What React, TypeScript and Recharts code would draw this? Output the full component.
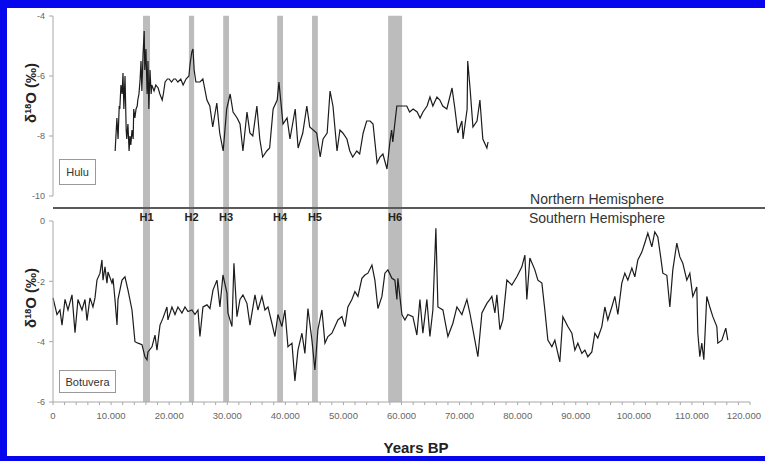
import React from "react";
import { Line, LineChart, ReferenceArea, ReferenceLine, XAxis, YAxis } from "recharts";

const huluYears = [
  10700, 11000, 11200, 11400, 11500, 11700, 11900, 12050, 12200, 12400, 12600, 12700, 12900, 13100, 13250,
  13400, 13600, 13800, 13900, 14100, 14300, 14500, 14600, 14800, 15000, 15150, 15300, 15500, 15700, 15800,
  16000, 16200, 16350, 16500, 16700, 16900, 17000, 17200, 17400, 17700, 18100, 18400, 18800, 19000, 19300,
  19700, 20000, 20400, 20800, 21100, 21500, 22000, 22400, 22900, 23400, 23600, 23900, 24100, 24300, 24600,
  25300, 25800, 26500, 27000, 27500, 28200, 28700, 29300, 29900, 30500, 31000, 31700, 32200, 32700, 33400,
  33900, 34400, 35100, 35600, 36100, 36800, 37300, 37900, 38600, 38900, 39600, 40300, 40800, 41700, 42200,
  43000, 43700, 44200, 45400, 46000, 46500, 47200, 47700, 48200, 48900, 49400, 49900, 50600, 51100, 51600,
  52300, 52800, 53400, 54000, 54600, 55100, 55800, 56300, 56800, 57500, 58000, 58300, 58500, 58900, 59200,
  59700, 60900, 61400, 62000, 62700, 63200, 63700, 64400, 64900, 65400, 66100, 66600, 67100, 67800, 68700,
  69200, 69700, 70400, 70600, 71300, 71400, 71800, 72300, 73000, 73500, 74000, 74700, 74900,
];
const huluValues = [
  -8.5, -7.4, -8.1, -7.0, -7.1, -6.3, -6.6, -5.9, -7.1, -6.0, -7.8, -8.1, -7.6, -8.5, -8.0,
  -8.3, -7.8, -8.1, -7.1, -7.4, -7.1, -7.0, -6.8, -6.6, -6.1, -5.5, -6.5, -5.3, -4.5, -5.8,
  -5.1, -6.6, -5.5, -7.1, -5.8, -6.6, -6.3, -6.4, -6.5, -6.3, -6.4, -6.6, -6.8, -6.6, -6.2,
  -6.1, -6.1, -6.2, -6.1, -6.1, -6.2, -6.1, -6.3, -6.1, -6.0, -5.6, -5.2, -5.1, -5.8, -6.2,
  -6.2, -6.1, -6.8, -7.0, -7.7, -6.9, -7.9, -8.5, -7.1, -6.6, -7.2, -7.4, -7.6, -8.5, -7.2,
  -7.9, -8.0, -7.0, -8.1, -8.7, -8.5, -8.4, -7.1, -6.8, -6.2, -7.6, -7.4, -8.1, -7.1, -8.4,
  -7.9, -7.0, -7.7, -7.9, -8.7, -8.1, -7.9, -6.5, -7.0, -8.5, -7.8, -7.9, -8.1, -8.5, -8.7,
  -8.5, -8.6, -7.9, -7.5, -7.5, -7.6, -8.9, -8.7, -8.6, -9.1, -8.2, -7.8, -8.2, -7.5, -7.0,
  -7.0, -7.0, -7.2, -7.1, -7.2, -7.4, -7.2, -7.0, -6.7, -7.0, -6.7, -6.8, -7.0, -7.1, -6.4,
  -7.1, -7.9, -7.5, -8.1, -7.1, -5.5, -6.4, -7.7, -7.5, -6.8, -8.1, -8.4, -8.2,
];

const botuveraYears = [
  0, 690, 1200, 1550, 2070, 2580, 3270, 3790, 4300, 4990, 5510, 5850, 6370, 6880, 7230, 7570, 8090, 8430,
  8610, 8950, 9290, 9470, 10150, 10330, 10670, 11020, 11190, 11880, 12390, 12910, 13600, 14110, 14630,
  15320, 15830, 16180, 16350, 17040, 17560, 17900, 18420, 18930, 19620, 19790, 20480, 21000, 21510, 22200,
  22720, 23240, 23920, 24440, 24960, 25300, 25820, 26510, 27020, 27540, 28230, 28740, 29260, 29950, 30120,
  30810, 31150, 31670, 32190, 32700, 33390, 33910, 34770, 35280, 35970, 36490, 37010, 37690, 38210, 38730,
  39410, 39930, 40450, 41140, 41650, 42170, 42860, 43370, 43890, 44580, 45090, 45610, 46300, 46820, 47330,
  48020, 48540, 49050, 49740, 50260, 50770, 51460, 51980, 52500, 53180, 53700, 54220, 54910, 55420, 55940,
  56630, 57140, 57660, 58350, 58860, 59210, 59380, 60070, 60590, 61100, 61960, 62650, 63170, 63680, 64370,
  64890, 65400, 65920, 66270, 67130, 67990, 68850, 69540, 70400, 71260, 71770, 72630, 73150, 73840, 74700,
  75220, 75560, 76080, 76420, 76940, 77450, 78140, 79000, 79860, 80720, 81240, 81580, 82100, 82960, 83480,
  84170, 84680, 85200, 85890, 86400, 86920, 87260, 87780, 88640, 89330, 89850, 90360, 91050, 91570, 92080,
  92770, 93290, 93800, 94490, 95010, 95520, 96210, 96730, 97250, 97930, 98450, 98970, 99660, 100170, 100690,
  101380, 101890, 102410, 103100, 103610, 104130, 104650, 104990, 105680, 106200, 106710, 107400, 107920,
  108430, 109120, 109640, 110150, 110840, 111020, 111360, 111700, 112050, 112560, 113080, 113600, 114290,
  114460, 115150, 115830, 116180,
];
const botuveraValues = [
  -2.55, -3.1, -2.95, -3.45, -2.6, -2.95, -2.45, -3.7, -2.6, -2.95, -2.6, -3.3, -2.55, -2.85, -2.55, -1.96, -1.73, -1.29,
  -1.96, -1.52, -2.06, -1.69, -2.06, -1.9, -2.6, -3.45, -2.6, -1.96, -1.85, -2.29, -2.95, -4.0, -4.05,
  -4.1, -4.5, -4.6, -4.34, -4.17, -3.78, -4.28, -3.45, -3.22, -2.85, -3.28, -2.85, -3.1, -2.85, -3.05,
  -2.85, -3.0, -2.95, -3.1, -2.95, -3.83, -2.85, -2.78, -2.9, -2.29, -1.96, -2.85, -1.79, -2.39, -3.05,
  -3.5, -1.4, -3.17, -2.6, -2.45, -2.73, -3.45, -2.45, -2.95, -2.5, -2.95, -2.85, -3.39, -3.83, -3.1,
  -3.5, -2.95, -4.17, -4.05, -5.3, -4.28, -3.72, -4.39, -2.9, -3.95, -4.94, -3.6, -2.95, -4.05, -3.83,
  -3.72, -3.5, -3.28, -3.17, -3.5, -2.85, -2.6, -2.34, -2.5, -1.9, -1.79, -1.73, -1.46, -1.96, -2.9,
  -2.5, -1.73, -1.62, -1.9, -1.96, -2.6, -1.9, -3.1, -3.28, -3.1, -3.17, -3.78, -2.6, -3.72, -2.6,
  -3.83, -2.95, -0.24, -2.85, -2.95, -3.83, -3.39, -2.85, -3.1, -2.6, -3.05, -3.95, -4.5, -3.05, -2.73,
  -2.6, -2.5, -3.05, -2.45, -3.6, -3.28, -1.96, -2.12, -1.85, -1.52, -1.13, -2.6, -1.23, -1.62, -1.96,
  -2.06, -2.95, -3.95, -4.17, -3.95, -4.39, -4.67, -3.17, -3.5, -3.72, -4.28, -4.05, -4.39, -4.28, -4.5,
  -4.34, -3.72, -3.88, -3.5, -2.85, -3.28, -2.85, -2.5, -3.1, -2.06, -1.73, -1.96, -1.56, -1.85, -1.29,
  -1.03, -0.73, -0.4, -0.86, -0.36, -0.53, -1.23, -1.73, -1.8, -2.85, -1.62, -0.73, -1.19,
  -1.4, -1.96, -1.73, -2.5, -2.19, -3.72, -4.5, -4.05, -4.6, -2.5, -2.85, -3.17, -3.5,
  -4.05, -3.95, -3.55, -3.95,
];

const heinrichLabels = ["H1", "H2", "H3", "H4", "H5", "H6"];
const heinrichStart = [15500, 23400, 29300, 38600, 44600, 57700];
const heinrichEnd = [16700, 24300, 30300, 39600, 45600, 60100];

const xMajorTicks = [0, 10000, 20000, 30000, 40000, 50000, 60000, 70000, 80000, 90000, 100000, 110000, 120000];
const huluTicks = [-10, -8, -6, -4];
const botuveraTicks = [-6, -4, -2, 0];

const W = 765;
const H = 461;
const LEFT = 53;
const RIGHT = 15;
const FONT = "'Liberation Sans', Arial, sans-serif";
// bands run up through the Hulu panel: value on the Botuvera scale at the top of the figure
const BAND_TOP = 6.8;

const huluData = huluYears.map((yr, i) => ({ yr, v: huluValues[i] }));
const botuveraData = botuveraYears.map((yr, i) => ({ yr, v: botuveraValues[i] }));
const xTicks = xMajorTicks.flatMap((t, i) =>
  i < xMajorTicks.length - 1 ? [t, t + 2000, t + 4000, t + 6000, t + 8000] : [t]
);

const fmtYear = (v: number) => {
  if (v < 1000) return String(v);
  return `${Math.floor(v / 1000)}.${String(v % 1000).padStart(3, "0")}`;
};

const axisStroke = "#a8a8a8";
const tickStyle = { fontSize: 9, fill: "#666", fontFamily: FONT };
const layer: React.CSSProperties = { position: "absolute", left: 0, top: 0 };

function YearTick(props: any) {
  const { x, y, payload } = props;
  const v = payload.value as number;
  if (v % 10000 !== 0) return null;
  const label = fmtYear(v);
  const cx = Math.min(x, W - 3 - label.length * 2.6);
  return (
    <text x={cx} y={y + 12} textAnchor="middle" fontSize={9.5} fill="#666" fontFamily={FONT}>
      {label}
    </text>
  );
}

export default function App() {
  return (
    <div style={{ position: "absolute", left: 0, top: 0, width: W, height: H, background: "#fff", fontFamily: FONT }}>
      {/* Botuvera (bottom) with the Heinrich bands */}
      <div style={layer}>
        <LineChart width={W} height={H} data={botuveraData} margin={{ top: 221, right: RIGHT, bottom: 29, left: 0 }}>
          <XAxis
            type="number"
            dataKey="yr"
            domain={[0, 120000]}
            ticks={xTicks}
            interval={0}
            height={30}
            stroke={axisStroke}
            tickSize={3}
            tick={<YearTick />}
          />
          <YAxis
            width={LEFT}
            type="number"
            domain={[-6, 0]}
            ticks={botuveraTicks}
            interval={0}
            stroke={axisStroke}
            tickSize={4}
            tickMargin={4}
            tick={tickStyle}
          />
          {heinrichLabels.map((h, i) => (
            <ReferenceArea
              key={h}
              x1={heinrichStart[i]}
              x2={heinrichEnd[i]}
              y1={-6}
              y2={BAND_TOP}
              ifOverflow="visible"
              fill="#bcbcbc"
              fillOpacity={1}
              stroke="none"
            />
          ))}
          {heinrichLabels.map((h, i) => (
            <ReferenceLine
              key={h}
              x={(heinrichStart[i] + heinrichEnd[i]) / 2}
              stroke="none"
              label={{ value: h, position: "top", offset: 0, fontSize: 11, fontWeight: "bold", fill: "#222", fontFamily: FONT }}
            />
          ))}
          <Line type="linear" dataKey="v" stroke="#1c1c1c" strokeWidth={1.2} dot={false} isAnimationActive={false} />
        </LineChart>
      </div>

      {/* divider between hemispheres, drawn over the bands */}
      <svg width={W} height={H} style={layer}>
        <line x1={LEFT} x2={W} y1={208} y2={208} stroke="#5a5a5a" strokeWidth={2} />
      </svg>

      {/* Hulu (top) */}
      <div style={layer}>
        <LineChart width={W} height={H} data={huluData} margin={{ top: 16, right: RIGHT, bottom: 265, left: 0 }}>
          <XAxis type="number" dataKey="yr" domain={[0, 120000]} hide />
          <YAxis
            width={LEFT}
            type="number"
            domain={[-10, -4]}
            ticks={huluTicks}
            interval={0}
            stroke={axisStroke}
            tickSize={4}
            tickMargin={4}
            tick={tickStyle}
          />
          <Line type="linear" dataKey="v" stroke="#1c1c1c" strokeWidth={1.2} dot={false} isAnimationActive={false} />
        </LineChart>
      </div>

      {/* titles, record names and the blue frame */}
      <svg width={W} height={H} style={layer}>
        <text x={597} y={204} textAnchor="middle" fontSize={14} fill="#333">Northern Hemisphere</text>
        <text x={597} y={223} textAnchor="middle" fontSize={14} fill="#333">Southern Hemisphere</text>
        <text x={416} y={453} textAnchor="middle" fontSize={15} fontWeight="bold" fill="#222">Years BP</text>
        {[93, 298].map((cy) => (
          <text key={cy} transform={`translate(36,${cy}) rotate(-90)`} textAnchor="middle" fontSize={15} fontWeight="bold" fill="#222">
            δ<tspan dy={-5} fontSize={9}>18</tspan>
            <tspan dy={5}>O (‰)</tspan>
          </text>
        ))}
        <rect x={59.5} y={159.5} width={36} height={25} fill="#fff" stroke="#999" />
        <text x={77.5} y={176} textAnchor="middle" fontSize={11} fill="#333">Hulu</text>
        <rect x={59.5} y={370.5} width={56} height={22} fill="#fff" stroke="#999" />
        <text x={87.5} y={386} textAnchor="middle" fontSize={11} fill="#333">Botuvera</text>
        <rect x={0} y={0} width={W} height={8} fill="#0707ee" />
        <rect x={0} y={0} width={7} height={H} fill="#0707ee" />
        <rect x={0} y={456} width={W} height={5} fill="#0707ee" />
      </svg>
    </div>
  );
}
